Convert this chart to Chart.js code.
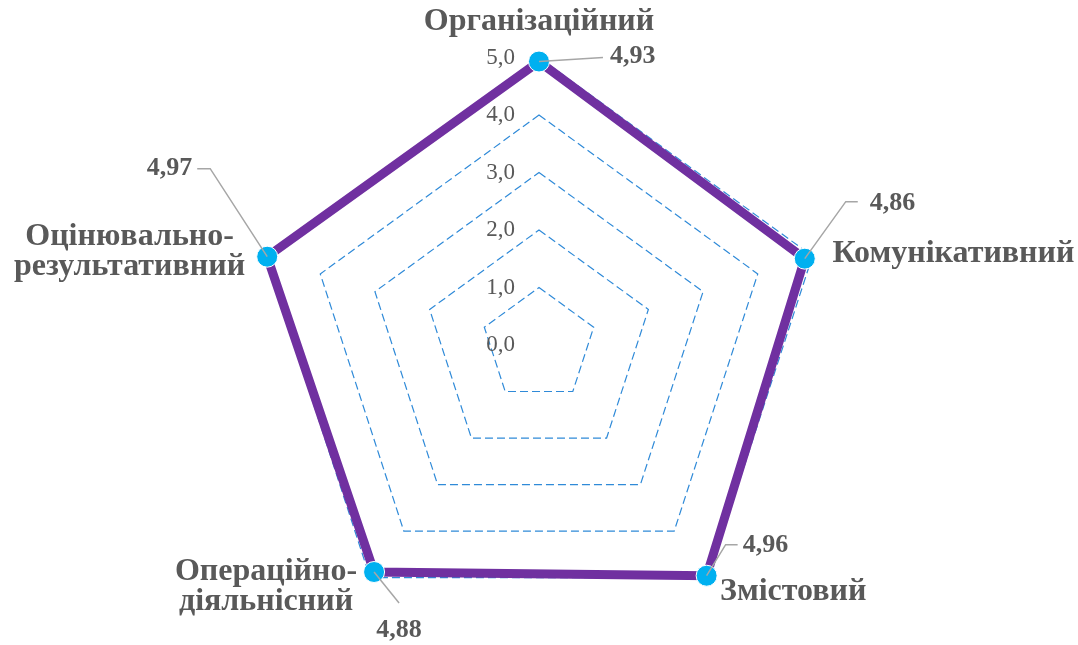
<!DOCTYPE html>
<html>
<head>
<meta charset="utf-8">
<script src="https://cdn.jsdelivr.net/npm/chart.js@4"></script>
<style>
  html, body { margin: 0; padding: 0; background: #fff; }
  #wrap { width: 1078px; height: 645px; position: relative; }
</style>
</head>
<body>
<div id="wrap"><canvas id="chart"></canvas></div>
<script>
// data
const categories = [
    ['Організаційний'],
    ['Комунікативний'],
    ['Змістовий'],
    ['Операційно-', 'діяльнісний'],
    ['Оцінювально-', 'результативний']
];
const scores = [4.93, 4.86, 4.96, 4.88, 4.97];
const tickValues = [0, 1, 2, 3, 4, 5];
const tickLabels = ['0,0', '1,0', '2,0', '3,0', '4,0', '5,0'];

const serif = '"Liberation Serif", "Times New Roman", serif';
const textGrey = '#595959';

// where each category name sits, relative to the outer ring vertex
const catPlace = [
    { dx: 0, dy: -36, align: 'center' },
    { dx: 20, dy: -2, align: 'left' },
    { dx: 12, dy: 14, align: 'left' },
    { dx: -104, dy: -6, align: 'center' },
    { dx: -136, dy: -19, align: 'center' }
];
// leader line bends and value label spot, relative to the data point
const leaderPlace = [
    { path: [[64, -4]], lx: 71, ly: -5, align: 'left' },
    { path: [[41, -57], [53, -57]], lx: 65, ly: -55, align: 'left' },
    { path: [[19, -31], [31, -31]], lx: 36, ly: -30, align: 'left' },
    { path: [[25, 31]], lx: 25, ly: 58, align: 'center' },
    { path: [[-57, -88], [-70, -88]], lx: -75, ly: -88, align: 'right' }
];

const fmt = (v, d) => v.toFixed(d).replace('.', ',');

const labelPlugin = {
    id: 'radarLabels',
    afterDatasetsDraw(chart) {
        const ctx = chart.ctx;
        const r = chart.scales.r;
        const meta = chart.getDatasetMeta(0);

        ctx.save();
        ctx.textBaseline = 'middle';

        // tick labels, left of the vertical axis
        ctx.fillStyle = textGrey;
        ctx.font = '23px ' + serif;
        ctx.textAlign = 'right';
        tickValues.forEach((v, i) => {
            const y = r.yCenter - r.getDistanceFromCenterForValue(v);
            ctx.fillText(tickLabels[i], r.xCenter - 24, y);
        });

        // leader lines + value labels
        meta.data.forEach((pt, i) => {
            const p = leaderPlace[i];
            ctx.strokeStyle = '#A6A6A6';
            ctx.lineWidth = 1.5;
            ctx.beginPath();
            ctx.moveTo(pt.x, pt.y);
            p.path.forEach(([dx, dy]) => ctx.lineTo(pt.x + dx, pt.y + dy));
            ctx.stroke();

            ctx.fillStyle = textGrey;
            ctx.font = 'bold 26px ' + serif;
            ctx.textAlign = p.align;
            ctx.fillText(fmt(scores[i], 2), pt.x + p.lx, pt.y + p.ly);
        });

        // category names
        ctx.font = 'bold 32px ' + serif;
        categories.forEach((lines, i) => {
            const pos = r.getPointPosition(i, r.getDistanceFromCenterForValue(5));
            const c = catPlace[i];
            ctx.textAlign = c.align;
            lines.forEach((line, k) => {
                ctx.fillText(line, pos.x + c.dx, pos.y + c.dy + k * 30);
            });
        });
        ctx.restore();
    }
};

new Chart(document.getElementById('chart'), {
    type: 'radar',
    data: {
        labels: categories,
        datasets: [{
            data: scores,
            borderColor: '#7030A0',
            borderWidth: 9,
            borderJoinStyle: 'miter',
            backgroundColor: 'rgba(0,0,0,0)',
            fill: false,
            pointRadius: 10.5,
            pointBackgroundColor: '#00B0F0',
            pointBorderColor: '#ffffff',
            pointBorderWidth: 1
        }]
    },
    options: {
        responsive: true,
        maintainAspectRatio: false,
        animation: false,
        plugins: {
            legend: { display: false },
            tooltip: { enabled: false }
        },
        scales: {
            r: {
                min: 0,
                max: 5,
                ticks: { stepSize: 1, display: false },
                pointLabels: { display: false },
                angleLines: { display: false },
                grid: { color: '#2F8AD8', lineWidth: 1.2 },
                border: { dash: [8, 4] },
                afterFit(scale) {
                    // pin the plot to the reference's centre and radius
                    scale.xCenter = 539;
                    scale.yCenter = 345;
                    scale.drawingArea = 287.5;
                }
            }
        }
    },
    plugins: [labelPlugin]
});
</script>
</body>
</html>
